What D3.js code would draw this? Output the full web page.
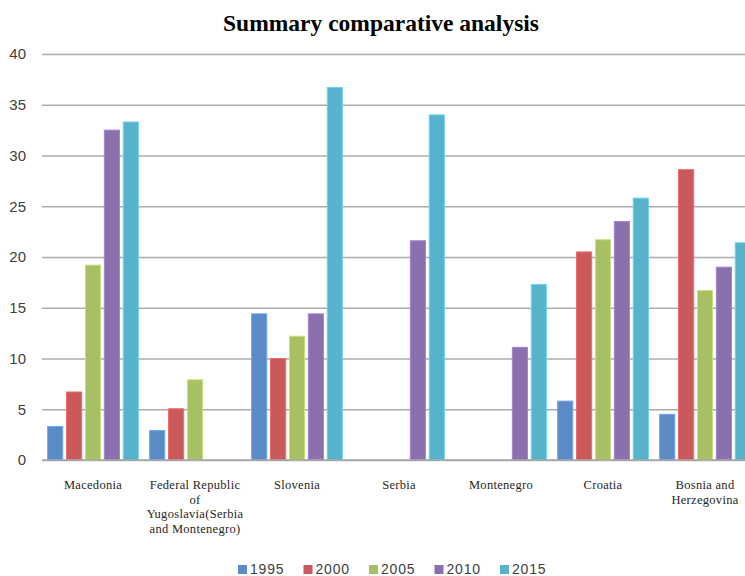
<!DOCTYPE html>
<html>
<head>
<meta charset="utf-8">
<script src="https://cdn.jsdelivr.net/npm/d3@7"></script>
<style>
  html, body { margin: 0; padding: 0; background: #ffffff; }
  svg { display: block; }
</style>
</head>
<body>
<svg id="chart" width="745" height="576"></svg>
<script>
const title = "Summary comparative analysis";
const categories = [
  ["Macedonia"],
  ["Federal Republic", "of", "Yugoslavia(Serbia", "and Montenegro)"],
  ["Slovenia"],
  ["Serbia"],
  ["Montenegro"],
  ["Croatia"],
  ["Bosnia and", "Herzegovina"]
];
const seriesNames = ["1995", "2000", "2005", "2010", "2015"];
const seriesColors = ["#5B8BC6", "#C9595A", "#A6C063", "#8A70AD", "#57B2CC"];
const v1995 = [3.3, 2.9, 14.4, null, null, 5.8, 4.5];
const v2000 = [6.7, 5.05, 10.0, null, null, 20.5, 28.6];
const v2005 = [19.2, 7.9, 12.2, null, null, 21.7, 16.7];
const v2010 = [32.5, null, 14.4, 21.6, 11.1, 23.5, 19.0];
const v2015 = [33.3, null, 36.7, 34.0, 17.3, 25.8, 21.4];
const yTicks = [0, 5, 10, 15, 20, 25, 30, 35, 40];

const seriesValues = [v1995, v2000, v2005, v2010, v2015];

const svg = d3.select("#chart");
const plotLeft = 42, plotRight = 756, plotTop = 54, plotBottom = 460;

const catKeys = categories.map((c, i) => i);
const x0 = d3.scaleBand().domain(catKeys).range([plotLeft, plotRight])
  .paddingInner(0.0735).paddingOuter(0.0735 / 2);
const x1 = d3.scaleBand().domain(seriesNames).range([0, x0.bandwidth()])
  .paddingInner(0.2).paddingOuter(0.1);
const y = d3.scaleLinear().domain([0, 40]).range([plotBottom, plotTop]);

// gridlines
const yAxis = d3.axisLeft(y).tickValues(yTicks).tickSize(-(745 - plotLeft)).tickPadding(16);
const gy = svg.append("g").attr("transform", `translate(${plotLeft},0)`).call(yAxis);
gy.select(".domain").remove();
gy.selectAll(".tick line").attr("stroke", "#ABABAB").attr("stroke-width", 1.5);
gy.selectAll(".tick text")
  .attr("fill", "#404040")
  .style("font-family", "'Liberation Sans', Arial, sans-serif")
  .style("font-size", "15px");

// bars
const groups = svg.append("g").selectAll("g")
  .data(catKeys).join("g")
  .attr("transform", i => `translate(${x0(i)},0)`);

groups.selectAll("rect")
  .data(i => seriesNames.map((s, k) => ({ s, k, v: seriesValues[k][i] })).filter(d => d.v != null))
  .join("rect")
  .attr("x", d => x1(d.s))
  .attr("width", x1.bandwidth())
  .attr("y", d => y(d.v))
  .attr("height", d => y(0) - y(d.v))
  .attr("fill", d => seriesColors[d.k])
  .attr("stroke", d => d3.color(seriesColors[d.k]).brighter(0.5))
  .attr("stroke-width", 1);

// baseline
svg.append("line")
  .attr("x1", plotLeft).attr("x2", 745)
  .attr("y1", y(0)).attr("y2", y(0))
  .attr("stroke", "#A6A6A6").attr("stroke-width", 1.5);

// x labels
const xl = svg.append("g");
categories.forEach((lines, i) => {
  const cx = x0(i) + x0.bandwidth() / 2;
  const t = xl.append("text")
    .attr("x", cx).attr("y", 489)
    .attr("text-anchor", "middle")
    .attr("fill", "#262626")
    .style("font-family", "'Liberation Serif', 'Times New Roman', serif")
    .style("font-size", "12.5px")
    .style("letter-spacing", "0.3px");
  lines.forEach((ln, j) => {
    t.append("tspan").attr("x", cx).attr("dy", j === 0 ? 0 : 14.5).text(ln);
  });
});

// title
svg.append("text")
  .attr("x", 381).attr("y", 31)
  .attr("text-anchor", "middle")
  .attr("fill", "#000")
  .style("font-family", "'Liberation Serif', 'Times New Roman', serif")
  .style("font-weight", "bold")
  .style("font-size", "23.5px")
  .text(title);

// legend
const legendStep = 65.5;
const lg = svg.append("g").selectAll("g")
  .data(seriesNames).join("g")
  .attr("transform", (d, k) => `translate(${238 + k * legendStep},0)`);
lg.append("rect")
  .attr("x", 0).attr("y", 565).attr("width", 9).attr("height", 9)
  .attr("fill", (d, k) => seriesColors[k]);
lg.append("text")
  .attr("x", 12).attr("y", 574)
  .attr("fill", "#404040")
  .style("font-family", "'Liberation Sans', Arial, sans-serif")
  .style("font-size", "14px")
  .style("letter-spacing", "0.8px")
  .text(d => d);
</script>
</body>
</html>
